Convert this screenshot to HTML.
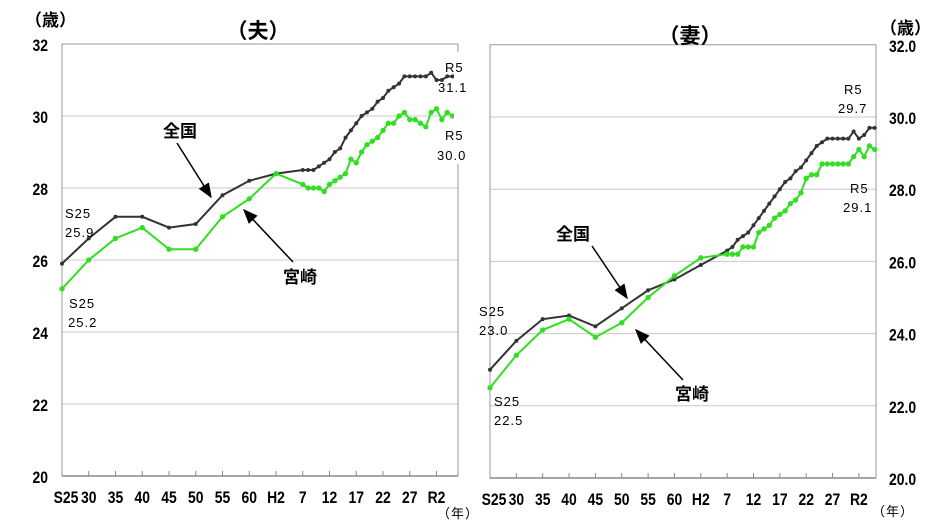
<!DOCTYPE html>
<html><head><meta charset="utf-8">
<style>
body{margin:0;background:#fff;width:932px;height:523px;overflow:hidden;font-family:"Liberation Sans","Noto Sans CJK JP",sans-serif;}
svg text{font-family:"Liberation Sans","Noto Sans CJK JP",sans-serif;}
.tick{font-family:"Liberation Sans Narrow","Liberation Sans","Noto Sans CJK JP",sans-serif;font-weight:bold;font-size:17px;fill:#000;}
.ann{font-size:13px;fill:#000;letter-spacing:1px;}
.big{font-size:17px;font-weight:bold;fill:#000;}
.title{font-size:21px;font-weight:bold;fill:#000;}
</style></head>
<body>
<svg id="chart" width="932" height="523" viewBox="0 0 932 523" xmlns="http://www.w3.org/2000/svg">
<defs><marker id="ah" markerWidth="10" markerHeight="10" refX="9" refY="5" orient="auto"><path d="M0,1 L10,5 L0,9 Z" fill="#000"/></marker></defs>
<g id="gL"></g>
<g id="gR"></g>
</svg>
<script>
const years=[1950,1955,1960,1965,1970,1975,1980,1985,1990,1995,1996,1997,1998,1999,2000,2001,2002,2003,2004,2005,2006,2007,2008,2009,2010,2011,2012,2013,2014,2015,2016,2017,2018,2019,2020,2021,2022,2023];
const husbandNational=[25.9,26.6,27.2,27.2,26.9,27.0,27.8,28.2,28.4,28.5,28.5,28.5,28.6,28.7,28.8,29.0,29.1,29.4,29.6,29.8,30.0,30.1,30.2,30.4,30.5,30.7,30.8,30.9,31.1,31.1,31.1,31.1,31.1,31.2,31.0,31.0,31.1,31.1];
const husbandMiyazaki=[25.2,26.0,26.6,26.9,26.3,26.3,27.2,27.7,28.4,28.1,28.0,28.0,28.0,27.9,28.1,28.2,28.3,28.4,28.8,28.7,29.0,29.2,29.3,29.4,29.6,29.8,29.8,30.0,30.1,29.9,29.9,29.8,29.7,30.1,30.2,29.9,30.1,30.0];
const wifeNational=[23.0,23.8,24.4,24.5,24.2,24.7,25.2,25.5,25.9,26.3,26.4,26.6,26.7,26.8,27.0,27.2,27.4,27.6,27.8,28.0,28.2,28.3,28.5,28.6,28.8,29.0,29.2,29.3,29.4,29.4,29.4,29.4,29.4,29.6,29.4,29.5,29.7,29.7];
const wifeMiyazaki=[22.5,23.4,24.1,24.4,23.9,24.3,25.0,25.6,26.1,26.2,26.2,26.2,26.4,26.4,26.4,26.8,26.9,27.0,27.2,27.3,27.4,27.6,27.7,27.9,28.3,28.4,28.4,28.7,28.7,28.7,28.7,28.7,28.7,28.9,29.1,28.9,29.2,29.1];
const xLabels=["S25","30","35","40","45","50","55","60","H2","7","12","17","22","27","R2"];
const yTicksL=["20","22","24","26","28","30","32"];
const yTicksR=["20.0","22.0","24.0","26.0","28.0","30.0","32.0"];
const NS="http://www.w3.org/2000/svg";
function mk(p,t,a,txt){const e=document.createElementNS(NS,t);for(const k in a)e.setAttribute(k,a[k]);if(txt!==undefined)e.textContent=txt;p.appendChild(e);return e;}
function tickText(g,x,y,anchor,s){return mk(g,'text',{x:0,y:0,'text-anchor':anchor,class:'tick',transform:`translate(${x},${y}) scale(0.82,1)`},s);}
function draw(g,cfg,nat,miy,yLabs,side){
  const x=y=>cfg.x0+(y-1950)*cfg.px;
  const yv=v=>cfg.yb-(v-20)*cfg.py;
  yLabs.forEach((l,i)=>{const v=20+i*2;const yy=yv(v);
    if(i>0&&i<6){const gl=mk(g,'line',{x1:cfg.x0,x2:cfg.x1,y1:yy,y2:yy,stroke:'#c8c8c8','stroke-width':1});
    
    }
    const t=side==='L'?tickText(g,48,yy+7,'end',l):tickText(g,889,yy+7,'start',l);
    
    
  });
  const fr=mk(g,'path',{d:`M${cfg.x0},${cfg.yb} V${yv(32)} H${cfg.x1} V${cfg.yb} Z`,fill:'none',stroke:'#999','stroke-width':1});
  
  
  mk(g,'line',{x1:cfg.x0,x2:cfg.x1,y1:cfg.yb,y2:cfg.yb,stroke:'#888','stroke-width':1.5});
  xLabels.forEach((l,i)=>{const xx=x(1950+i*5);
    if(i>0)mk(g,'line',{x1:xx,x2:xx,y1:cfg.yb,y2:cfg.yb-5,stroke:'#888'});
    const t=tickText(g,xx+(i===0?4:0),cfg.yb+27,'middle',l);
    
    
  });
  const series=[[nat,'#333',3,'national-line'],[miy,'#33dd22',4,'miyazaki-line']];
  series.forEach(([d,c,r,n])=>{
    const pl=mk(g,'polyline',{points:d.map((v,i)=>x(years[i])+','+yv(v)).join(' '),fill:'none',stroke:c,'stroke-width':2});
    
    
    d.forEach((v,i)=>{const p=mk(g,'circle',{cx:x(years[i]),cy:yv(v),r:r/1.5,fill:c});
      
      });
  });
}
const gL=document.getElementById('gL'),gR=document.getElementById('gR');
draw(gL,{x0:62,x1:458,px:5.35,yb:476,py:36},husbandNational,husbandMiyazaki,yTicksL,'L');
draw(gR,{x0:490,x1:876,px:5.27,yb:478,py:36.1},wifeNational,wifeMiyazaki,yTicksR,'R');
// white gap in left frame behind R5 labels
const chartEl=document.getElementById('chart');
mk(chartEl,'rect',{x:454,y:52,width:10,height:112,fill:'#fff'});
function txt(x,y,s,cls,name,anchor){const t=mk(chartEl,'text',{x:x,y:y,class:cls,'text-anchor':anchor||'start'},s);
  
  return t;}
function arrow(x1,y1,x2,y2,name){const l=mk(chartEl,'line',{x1,y1,x2,y2,stroke:'#000','stroke-width':1.5,'marker-end':'url(#ah)'});
  
  }
txt(25,26,'（歳）','big','y-unit-left');
txt(880,34,'（歳）','big','y-unit-right');
txt(258,38,'（夫）','title','title-husband','middle');
txt(690,43,'（妻）','title','title-wife','middle');
txt(437,518,'（年）','ann','x-unit-left');
txt(872,516,'（年）','ann','x-unit-right');
txt(65,218,'S25','ann','label-s25-national-h');txt(65,237,'25.9','ann','value-s25-national-h');
txt(69,308,'S25','ann','label-s25-miyazaki-h');txt(68,327,'25.2','ann','value-s25-miyazaki-h');
txt(445,72,'R5','ann','label-r5-national-h');txt(438,92,'31.1','ann','value-r5-national-h');
txt(445,140,'R5','ann','label-r5-miyazaki-h');txt(437,160,'30.0','ann','value-r5-miyazaki-h');
txt(479,316,'S25','ann','label-s25-national-w');txt(479,335,'23.0','ann','value-s25-national-w');
txt(494,406,'S25','ann','label-s25-miyazaki-w');txt(494,425,'22.5','ann','value-s25-miyazaki-w');
txt(844,94,'R5','ann','label-r5-national-w');txt(838,113,'29.7','ann','value-r5-national-w');
txt(850,193,'R5','ann','label-r5-miyazaki-w');txt(843,212,'29.1','ann','value-r5-miyazaki-w');
txt(163,137,'全国','big','label-national-h');
txt(283,283,'宮崎','big','label-miyazaki-h');
txt(556,240,'全国','big','label-national-w');
txt(675,400,'宮崎','big','label-miyazaki-w');
arrow(177,143,211,197,'arrow-national-h');
arrow(293,262,244,210,'arrow-miyazaki-h');
arrow(592,246,627,298,'arrow-national-w');
arrow(683,380,636,330,'arrow-miyazaki-w');
</script>
</body></html>
